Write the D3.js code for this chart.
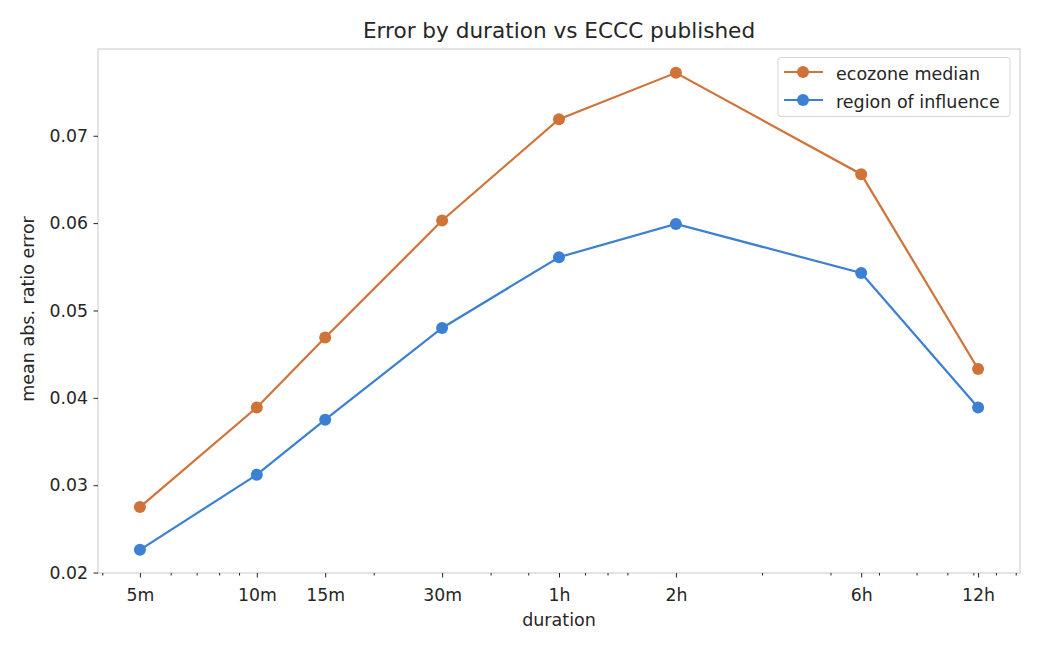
<!DOCTYPE html>
<html><head><meta charset="utf-8">
<script src="https://cdn.jsdelivr.net/npm/d3@7"></script>
<style>body{margin:0;background:#fff;} text{font-family:"DejaVu Sans",sans-serif;fill:#262626;}</style>
</head><body><svg id="c" width="1040" height="650"></svg>
<script>
const durations = [5, 10, 15, 30, 60, 120, 360, 720];
const tickLabels = ["5m", "10m", "15m", "30m", "1h", "2h", "6h", "12h"];
const minorTicks = [4, 6, 7, 8, 9, 20, 40, 50, 70, 80, 90, 200, 300, 400, 500, 600, 700, 800, 900];
const ecozoneMedian = [0.0275, 0.0389, 0.0469, 0.0603, 0.0719, 0.0772, 0.0656, 0.0433];
const regionOfInfluence = [0.0226, 0.0312, 0.0375, 0.0480, 0.0561, 0.0599, 0.0543, 0.0389];
const yTicks = [0.02, 0.03, 0.04, 0.05, 0.06, 0.07];
const seriesNames = ["ecozone median", "region of influence"];
const colors = ["#d07338", "#3b80d2"];

const svg = d3.select("#c");
const L = 98, R = 1020, T = 49, B = 573;
const lx = Math.log(5), hx = Math.log(720), px = (hx - lx) * 0.05;
const x = d3.scaleLog().domain([Math.exp(lx - px), Math.exp(hx + px)]).range([L, R]);
const y = d3.scaleLinear().domain([0.01995, 0.07993]).range([B, T]);

svg.append("rect").attr("x", L).attr("y", T).attr("width", R - L).attr("height", B - T)
  .attr("fill", "none").attr("stroke", "#cccccc").attr("stroke-width", 1.1);

const TICK_FS = "17.3px";
// x axis
const xa = svg.append("g").attr("transform", `translate(0,${B})`);
xa.call(d3.axisBottom(x).tickValues(durations).tickFormat((d, i) => tickLabels[i]).tickSize(4.5).tickPadding(11));
xa.append("g").call(d3.axisBottom(x).tickValues(minorTicks).tickFormat("").tickSize(2.5));
xa.selectAll(".domain").remove();
xa.selectAll("line").attr("stroke", "#262626").attr("stroke-width", 1);
xa.selectAll("text").style("font-size", TICK_FS).style("font-family", "DejaVu Sans").attr("fill", "#262626");

// y axis
const ya = svg.append("g").attr("transform", `translate(${L},0)`);
ya.call(d3.axisLeft(y).tickValues(yTicks).tickFormat(d3.format(".2f")).tickSize(4.5).tickPadding(5.5));
ya.selectAll(".domain").remove();
ya.selectAll("line").attr("stroke", "#262626");
ya.selectAll("text").style("font-size", TICK_FS).style("font-family", "DejaVu Sans").attr("fill", "#262626");

svg.append("text").attr("x", (L + R) / 2).attr("y", 626).attr("text-anchor", "middle")
  .style("font-size", "17.5px").text("duration");
svg.append("text").attr("transform", `translate(34,309) rotate(-90)`).attr("text-anchor", "middle")
  .style("font-size", "17.5px").text("mean abs. ratio error");
svg.append("text").attr("x", (L + R) / 2).attr("y", 37.5).attr("text-anchor", "middle")
  .style("font-size", "21.6px").text("Error by duration vs ECCC published");

const series = [ecozoneMedian, regionOfInfluence];
const line = d3.line().x((d, i) => x(durations[i])).y(d => y(d));
series.forEach((s, k) => {
  svg.append("path").datum(s).attr("d", line).attr("fill", "none").attr("stroke", colors[k]).attr("stroke-width", 2.2);
  svg.selectAll(null).data(s).enter().append("circle")
    .attr("cx", (d, i) => x(durations[i])).attr("cy", d => y(d)).attr("r", 6).attr("fill", colors[k]);
});

// legend
const lg = svg.append("g");
lg.append("rect").attr("x", 778).attr("y", 57.5).attr("width", 232).attr("height", 59).attr("rx", 3)
  .attr("fill", "#fff").attr("fill-opacity", 0.8).attr("stroke", "#d6d6d6");
seriesNames.forEach((n, k) => {
  const yy = 72 + k * 28;
  lg.append("line").attr("x1", 784).attr("x2", 823).attr("y1", yy).attr("y2", yy).attr("stroke", colors[k]).attr("stroke-width", 2.2);
  lg.append("circle").attr("cx", 803).attr("cy", yy).attr("r", 6).attr("fill", colors[k]);
  lg.append("text").attr("x", 836).attr("y", yy + 8).style("font-size", "17.5px").text(n);
});
</script></body></html>
